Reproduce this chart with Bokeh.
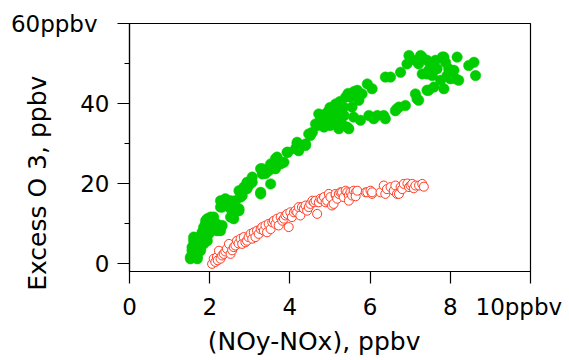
from bokeh.plotting import figure
from bokeh.models import Range1d, FixedTicker
from bokeh.embed import file_html
from bokeh.resources import INLINE

# ---- data ----
green_x = [1.52, 1.52, 1.56, 1.69, 1.69, 1.60, 1.56, 1.65, 1.56, 1.60, 1.65, 1.73, 1.60, 1.73,
           1.77, 1.77, 1.77, 1.81, 1.85, 1.85, 1.85, 1.90, 1.90, 1.94, 1.94, 1.98, 2.02, 2.02,
           2.06, 2.10, 2.10, 2.18, 2.18, 2.27, 2.27, 2.31, 2.27, 2.27, 2.31, 2.39, 2.43, 2.52,
           2.52, 2.52, 2.56, 2.60, 2.60, 2.60, 2.73, 2.73, 2.64, 2.77, 2.73, 2.81, 2.85, 2.93,
           2.93, 2.97, 3.06, 3.06, 3.27, 3.27, 3.27, 3.31, 3.31, 3.39, 3.39, 3.47, 3.52, 3.52,
           3.52, 3.60, 3.64, 3.64, 3.68, 3.77, 3.77, 3.85, 3.93, 3.95, 4.14, 4.18, 4.18, 4.22,
           4.39, 4.39, 4.47, 4.51, 4.56, 4.64, 4.68, 4.72, 4.76, 4.80, 4.85, 4.90, 4.93, 4.97,
           4.97, 5.00, 5.00, 5.05, 5.05, 5.09, 5.10, 5.14, 5.18, 5.20, 5.22, 5.25, 5.30, 5.34,
           5.35, 5.39, 5.43, 5.45, 5.47, 5.51, 5.55, 5.59, 5.60, 5.68, 5.72, 5.76, 5.80, 5.93,
           5.97, 6.05, 6.09, 6.18, 6.34, 6.38, 6.38, 6.51, 6.63, 6.67, 6.72, 6.76, 6.88, 6.92,
           6.97, 7.13, 7.13, 7.17, 7.21, 7.21, 7.26, 7.30, 7.30, 7.42, 7.42, 7.42, 7.46, 7.46,
           7.51, 7.55, 7.59, 7.59, 7.63, 7.67, 7.76, 7.80, 7.84, 7.84, 7.88, 7.92, 7.96, 8.00,
           8.04, 8.09, 8.13, 8.17, 8.21, 8.46, 8.59, 8.63]
green_y = [1.2, 1.6, 2.0, 1.2, 1.6, 2.5, 3.2, 4.1, 4.1, 5.7, 4.9, 5.7, 6.6, 6.6,
           3.2, 3.7, 6.6, 7.8, 4.9, 8.2, 9.1, 9.9, 10.7, 5.7, 11.2, 7.4, 11.6, 11.2,
           9.1, 9.1, 11.6, 8.2, 9.9, 9.1, 8.2, 9.5, 14.1, 15.7, 14.1, 16.2, 14.5, 15.7,
           13.7, 11.6, 11.6, 13.7, 12.4, 11.2, 13.2, 13.7, 15.7, 16.6, 18.2, 17.0, 19.1, 18.7,
           20.3, 19.5, 20.3, 21.6, 17.8, 17.4, 23.7, 22.4, 23.7, 22.5, 23.2, 23.2, 24.1, 19.9,
           24.9, 24.5, 23.7, 26.2, 26.6, 24.9, 25.3, 25.3, 27.8, 27.8, 28.7, 29.9, 30.3, 28.2,
           29.5, 29.9, 32.4, 32.0, 32.8, 34.9, 34.5, 37.4, 35.8, 36.5, 34.1, 37.5, 36.2, 38.2,
           35.0, 39.0, 34.5, 36.6, 37.8, 35.7, 38.5, 39.9, 37.8, 36.0, 33.7, 40.5, 34.9, 39.1,
           37.0, 41.6, 34.1, 42.5, 33.7, 41.6, 39.1, 36.6, 43.0, 43.3, 40.8, 35.8, 42.4, 44.9,
           37.0, 43.7, 36.2, 37.0, 37.0, 36.2, 46.6, 46.6, 38.2, 38.7, 39.1, 47.8, 39.5, 49.9,
           52.0, 42.4, 50.8, 41.2, 40.8, 49.9, 52.0, 47.4, 51.6, 43.3, 50.8, 47.4, 48.3, 43.3,
           49.9, 47.0, 44.1, 48.3, 50.8, 48.7, 45.8, 51.6, 51.6, 43.7, 50.3, 47.0, 48.7, 46.2,
           47.4, 48.3, 46.2, 51.6, 45.8, 49.5, 50.3, 47.0]

red_x = [2.06, 2.10, 2.14, 2.18, 2.20, 2.23, 2.27, 2.31, 2.35, 2.39, 2.43, 2.48, 2.52, 2.56,
         2.60, 2.64, 2.68, 2.72, 2.77, 2.81, 2.85, 2.89, 2.93, 2.97, 3.02, 3.06, 3.10, 3.14,
         3.18, 3.22, 3.27, 3.31, 3.35, 3.39, 3.43, 3.47, 3.52, 3.56, 3.60, 3.64, 3.68, 3.72,
         3.77, 3.81, 3.85, 3.89, 3.93, 3.97, 4.01, 4.05, 4.10, 4.14, 4.18, 4.22, 4.26, 4.30,
         4.35, 4.39, 4.43, 4.47, 4.51, 4.56, 4.60, 4.64, 4.68, 4.72, 4.76, 4.80, 4.85, 4.89,
         4.93, 4.97, 5.01, 5.05, 5.09, 5.14, 5.14, 5.18, 5.22, 5.26, 5.30, 5.34, 5.39, 5.43,
         5.47, 5.47, 5.51, 5.55, 5.59, 5.64, 5.64, 5.68, 5.89, 5.93, 6.01, 6.05, 6.05, 6.26,
         6.34, 6.38, 6.42, 6.51, 6.59, 6.63, 6.67, 6.72, 6.76, 6.80, 6.84, 6.93, 6.97, 7.01,
         7.05, 7.09, 7.13, 7.22, 7.30, 7.34]
red_y = [-0.1, 1.2, 0.4, 1.6, 0.8, 3.2, 1.2, 2.0, 2.4, 3.0, 3.7, 4.9, 2.4, 3.3,
         4.1, 4.5, 5.7, 5.0, 6.2, 4.9, 6.6, 5.3, 5.7, 6.6, 7.4, 6.2, 7.8, 6.6,
         8.2, 7.4, 8.6, 9.1, 8.2, 9.5, 7.8, 9.9, 8.6, 10.3, 10.7, 9.9, 11.2, 9.5,
         11.6, 10.7, 11.2, 12.0, 12.4, 9.1, 12.8, 11.6, 12.8, 13.2, 12.8, 14.1, 12.0, 14.1,
         13.7, 14.5, 13.2, 14.1, 14.9, 15.7, 15.3, 15.7, 12.4, 15.3, 16.2, 16.0, 16.6, 15.3,
         15.7, 17.4, 16.6, 14.5, 14.9, 17.0, 17.4, 16.2, 17.4, 17.8, 17.8, 16.6, 18.2, 17.8,
         17.0, 15.7, 17.8, 17.0, 18.2, 17.8, 16.8, 18.2, 17.8, 17.8, 18.2, 17.4, 17.8, 17.8,
         19.5, 17.4, 18.6, 19.1, 18.2, 19.5, 17.4, 17.4, 19.1, 18.6, 19.9, 20.0, 19.1, 19.5,
         19.9, 18.8, 19.5, 19.5, 19.9, 19.2]

NB = "\u00a0"
x_ticks = [0, 2, 4, 6, 8, 10]
y_ticks = [0, 20, 40, 60]
y_minor = [10, 30, 50]
x_tick_labels = {0: "0", 2: "2", 4: "4", 6: "6", 8: "8", 10: "10ppbv" + NB}
y_tick_labels = {0: "0", 20: "20", 40: "40", 60: "60ppbv" + NB + "\u2009"}
x_title = "(NOy-NOx), ppbv" + NB * 4
y_title = "Excess O 3, ppbv" + NB * 9

FONT = "DejaVu Sans"

p = figure(width=569, height=360, output_backend="svg", toolbar_location=None,
           x_range=Range1d(0, 10), y_range=Range1d(-2, 60),
           min_border_left=129, min_border_right=39, min_border_top=23, min_border_bottom=89)
p.grid.visible = False
p.outline_line_color = "black"
p.outline_line_width = 1.2
p.background_fill_color = "white"
p.border_fill_color = "white"

p.xaxis.ticker = FixedTicker(ticks=x_ticks, minor_ticks=[])
p.yaxis.ticker = FixedTicker(ticks=y_ticks, minor_ticks=y_minor)
p.xaxis.major_label_overrides = x_tick_labels
p.yaxis.major_label_overrides = y_tick_labels
for ax in (p.xaxis, p.yaxis):
    ax.axis_line_color = "black"
    ax.axis_line_width = 1.2
    ax.major_tick_line_color = "black"
    ax.major_tick_line_width = 1.2
    ax.minor_tick_line_color = "black"
    ax.minor_tick_line_width = 1.2
    ax.major_tick_in = 0
    ax.major_tick_out = 12
    ax.minor_tick_in = 0
    ax.minor_tick_out = 5
    ax.major_label_text_font = FONT
    ax.major_label_text_font_size = "23px"
    ax.major_label_text_color = "black"
    ax.axis_label_text_font = FONT
    ax.axis_label_text_font_size = "25px"
    ax.axis_label_text_font_style = "normal"
    ax.axis_label_text_color = "black"

p.yaxis.major_label_standoff = 8
p.xaxis.major_label_standoff = 10
p.xaxis.axis_label = x_title
p.yaxis.axis_label = y_title
p.xaxis.axis_label_standoff = 4
p.yaxis.axis_label_standoff = -44

p.scatter(green_x, green_y, marker="circle", size=10.5, fill_color="#00cc00", line_color="#00cc00",
          line_width=0.5)
p.scatter(red_x, red_y, marker="circle", size=9, fill_color="white", line_color="#ff3b22",
          line_width=1)

open("out.html", "w").write(file_html(p, INLINE))
